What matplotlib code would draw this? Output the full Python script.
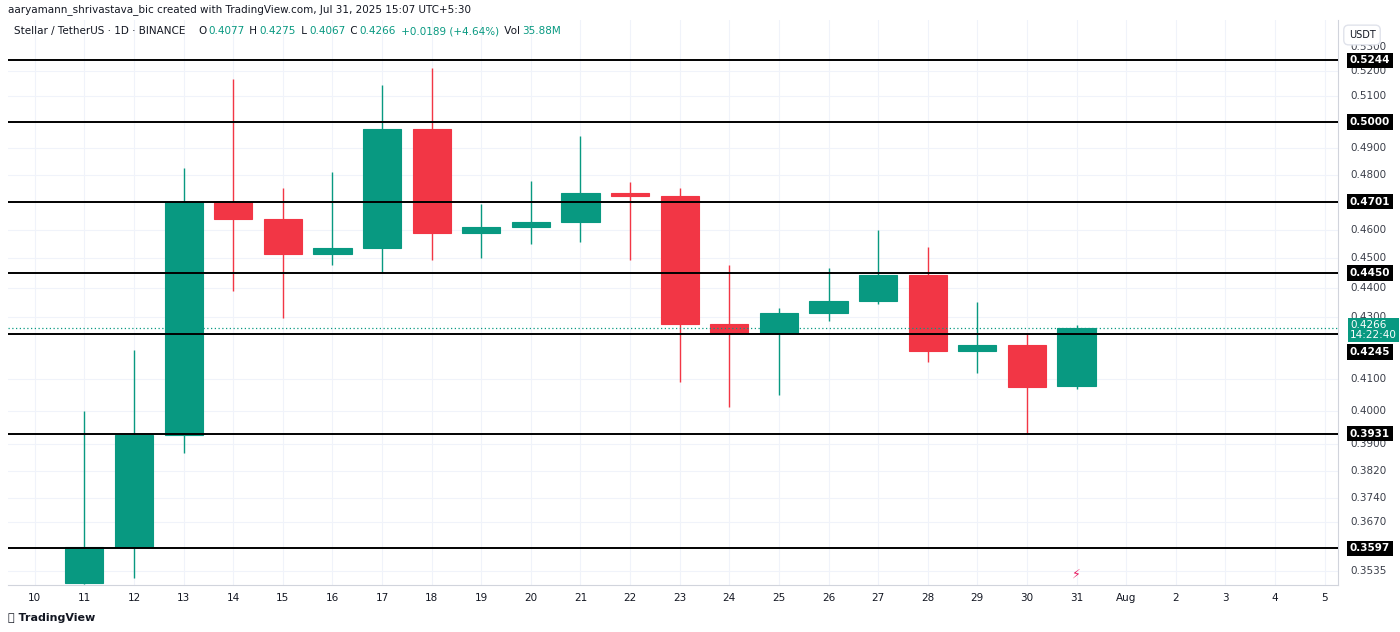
import matplotlib
matplotlib.use("Agg")
import matplotlib.pyplot as plt
from matplotlib.patches import Rectangle
import matplotlib.transforms as mt

days = list(range(11, 32))
opens  = [0.3502,0.3600,0.3928,0.4701,0.4638,0.4515,0.4536,0.4972,0.4589,0.4610,0.4628,0.4733,0.4722,0.4277,0.4247,0.4314,0.4354,0.4442,0.4189,0.4208,0.4077]
highs  = [0.4000,0.4192,0.4825,0.5168,0.4751,0.4810,0.5144,0.5212,0.4693,0.4777,0.4945,0.4773,0.4751,0.4477,0.4330,0.4466,0.4600,0.4539,0.4350,0.4245,0.4275]
lows   = [0.3500,0.3515,0.3871,0.4388,0.4297,0.4477,0.4449,0.4494,0.4501,0.4550,0.4557,0.4494,0.4090,0.4011,0.4049,0.4287,0.4344,0.4154,0.4118,0.3931,0.4067]
closes = [0.3600,0.3928,0.4701,0.4638,0.4515,0.4536,0.4972,0.4589,0.4610,0.4628,0.4733,0.4722,0.4277,0.4247,0.4314,0.4354,0.4442,0.4189,0.4208,0.4074,0.4266]
levels = [0.5244,0.5000,0.4701,0.4450,0.4245,0.3931,0.3597]
ytick_vals = [0.5300,0.5200,0.5100,0.4900,0.4800,0.4600,0.4500,0.4400,0.4300,0.4100,0.4000,0.3900,0.3820,0.3740,0.3670,0.3535]
grid_vals = [0.5200,0.5100,0.5000,0.4900,0.4800,0.4700,0.4600,0.4500,0.4400,0.4300,0.4100,0.4000,0.3900,0.3820,0.3740,0.3670,0.3535]
xtick_pos = list(range(10, 37))
xtick_labels = [str(d) for d in range(10, 32)] + ["Aug", "2", "3", "4", "5"]
last_price = 0.4266

GREEN = "#089981"; RED = "#F23645"; TXT = "#131722"

fig = plt.figure(figsize=(14, 6.32), dpi=100)
ax = fig.add_axes([8/1400, (632-585)/632, (1338-8)/1400, 565/632])
ax.set_yscale("log")
ax.set_xlim(9.46, 36.27)
ax.set_ylim(0.3497, 0.541)

for d, o, h, l, c in zip(days, opens, highs, lows, closes):
    col = GREEN if c >= o else RED
    ax.vlines(d, l, h, color=col, lw=1, zorder=3)
    lo, hi = min(o, c), max(o, c)
    ax.add_patch(Rectangle((d-0.385, lo), 0.77, hi-lo, facecolor=col, edgecolor=col, lw=0.8, zorder=4))

for lv in levels:
    ax.axhline(lv, color="black", lw=1.4, zorder=5)
ax.axhline(last_price, color=GREEN, lw=0.9, ls=(0, (1, 2)), zorder=5)

for v in grid_vals:
    ax.axhline(v, color="#f0f3fa", lw=0.8, zorder=0)
for x in xtick_pos:
    ax.axvline(x, color="#f0f3fa", lw=0.8, zorder=0)

ax.set_yticks([])
ax.yaxis.set_minor_locator(matplotlib.ticker.NullLocator())
ax.set_xticks(xtick_pos)
ax.set_xticklabels(xtick_labels, fontsize=7.5, color=TXT)
ax.tick_params(axis="x", length=0, pad=6)
for s in ["top", "left"]:
    ax.spines[s].set_visible(False)
ax.spines["right"].set_color("#d1d4dc")
ax.spines["bottom"].set_color("#d1d4dc")

tr = mt.blended_transform_factory(ax.transAxes, ax.transData)
for v in ytick_vals:
    ax.text(1.009, v, f"{v:.4f}", transform=tr, fontsize=7.5, color="#3b3f4a", va="center", ha="left", clip_on=False)
for lv in levels:
    t_lv = tr if lv != 0.4245 else mt.offset_copy(tr, fig=fig, x=0, y=-18, units="dots")
    ax.text(1.009, lv, f"{lv:.4f}", transform=t_lv, fontsize=7.5, color="white", weight="bold", va="center", ha="left",
            bbox=dict(boxstyle="square,pad=0.25", fc="black", ec="none"), zorder=10, clip_on=False)
price_tr = mt.offset_copy(tr, fig=fig, x=0, y=8, units="dots")
ax.text(1.009, last_price, f"{last_price:.4f}\n14:22:40", transform=price_tr, fontsize=7.5, color="white", va="top", ha="left",
        linespacing=1.0, bbox=dict(boxstyle="square,pad=0.2", fc=GREEN, ec="none"), zorder=11, clip_on=False)
ax.text(31, 0.3527, "⚡", fontsize=9, color="#e91e63", ha="center", va="center")

fig.text(8/1400, 1-10/632, "aaryamann_shrivastava_bic created with TradingView.com, Jul 31, 2025 15:07 UTC+5:30",
         fontsize=7.5, color=TXT, va="center")
fig.text(14/1400, 1-31/632, "Stellar / TetherUS · 1D · BINANCE", fontsize=7.5, color=TXT, va="center")
parts = [("O", TXT), ("0.4077", GREEN), (" H", TXT), ("0.4275", GREEN), (" L", TXT), ("0.4067", GREEN),
         (" C", TXT), ("0.4266", GREEN), (" +0.0189 (+4.64%)", GREEN), (" Vol", TXT), ("35.88M", GREEN)]
objs = [fig.text(0, 1-31/632, s, fontsize=7.5, color=c, va="center") for s, c in parts]
fig.canvas.draw()
r = fig.canvas.get_renderer()
xcur = 198.0
for txt in objs:
    txt.set_position((xcur/1400, 1-31/632))
    xcur += txt.get_window_extent(r).width + 2
fig.text(1362/1400, 1-35/632, "USDT", fontsize=7, color=TXT, ha="center", va="center",
         bbox=dict(boxstyle="round,pad=0.5", fc="white", ec="#e0e3eb"))
fig.text(8/1400, 1-618/632, "⧉ TradingView", fontsize=8, color=TXT, va="center", weight="bold")
fig.savefig("out.png", dpi=100, facecolor="white")
